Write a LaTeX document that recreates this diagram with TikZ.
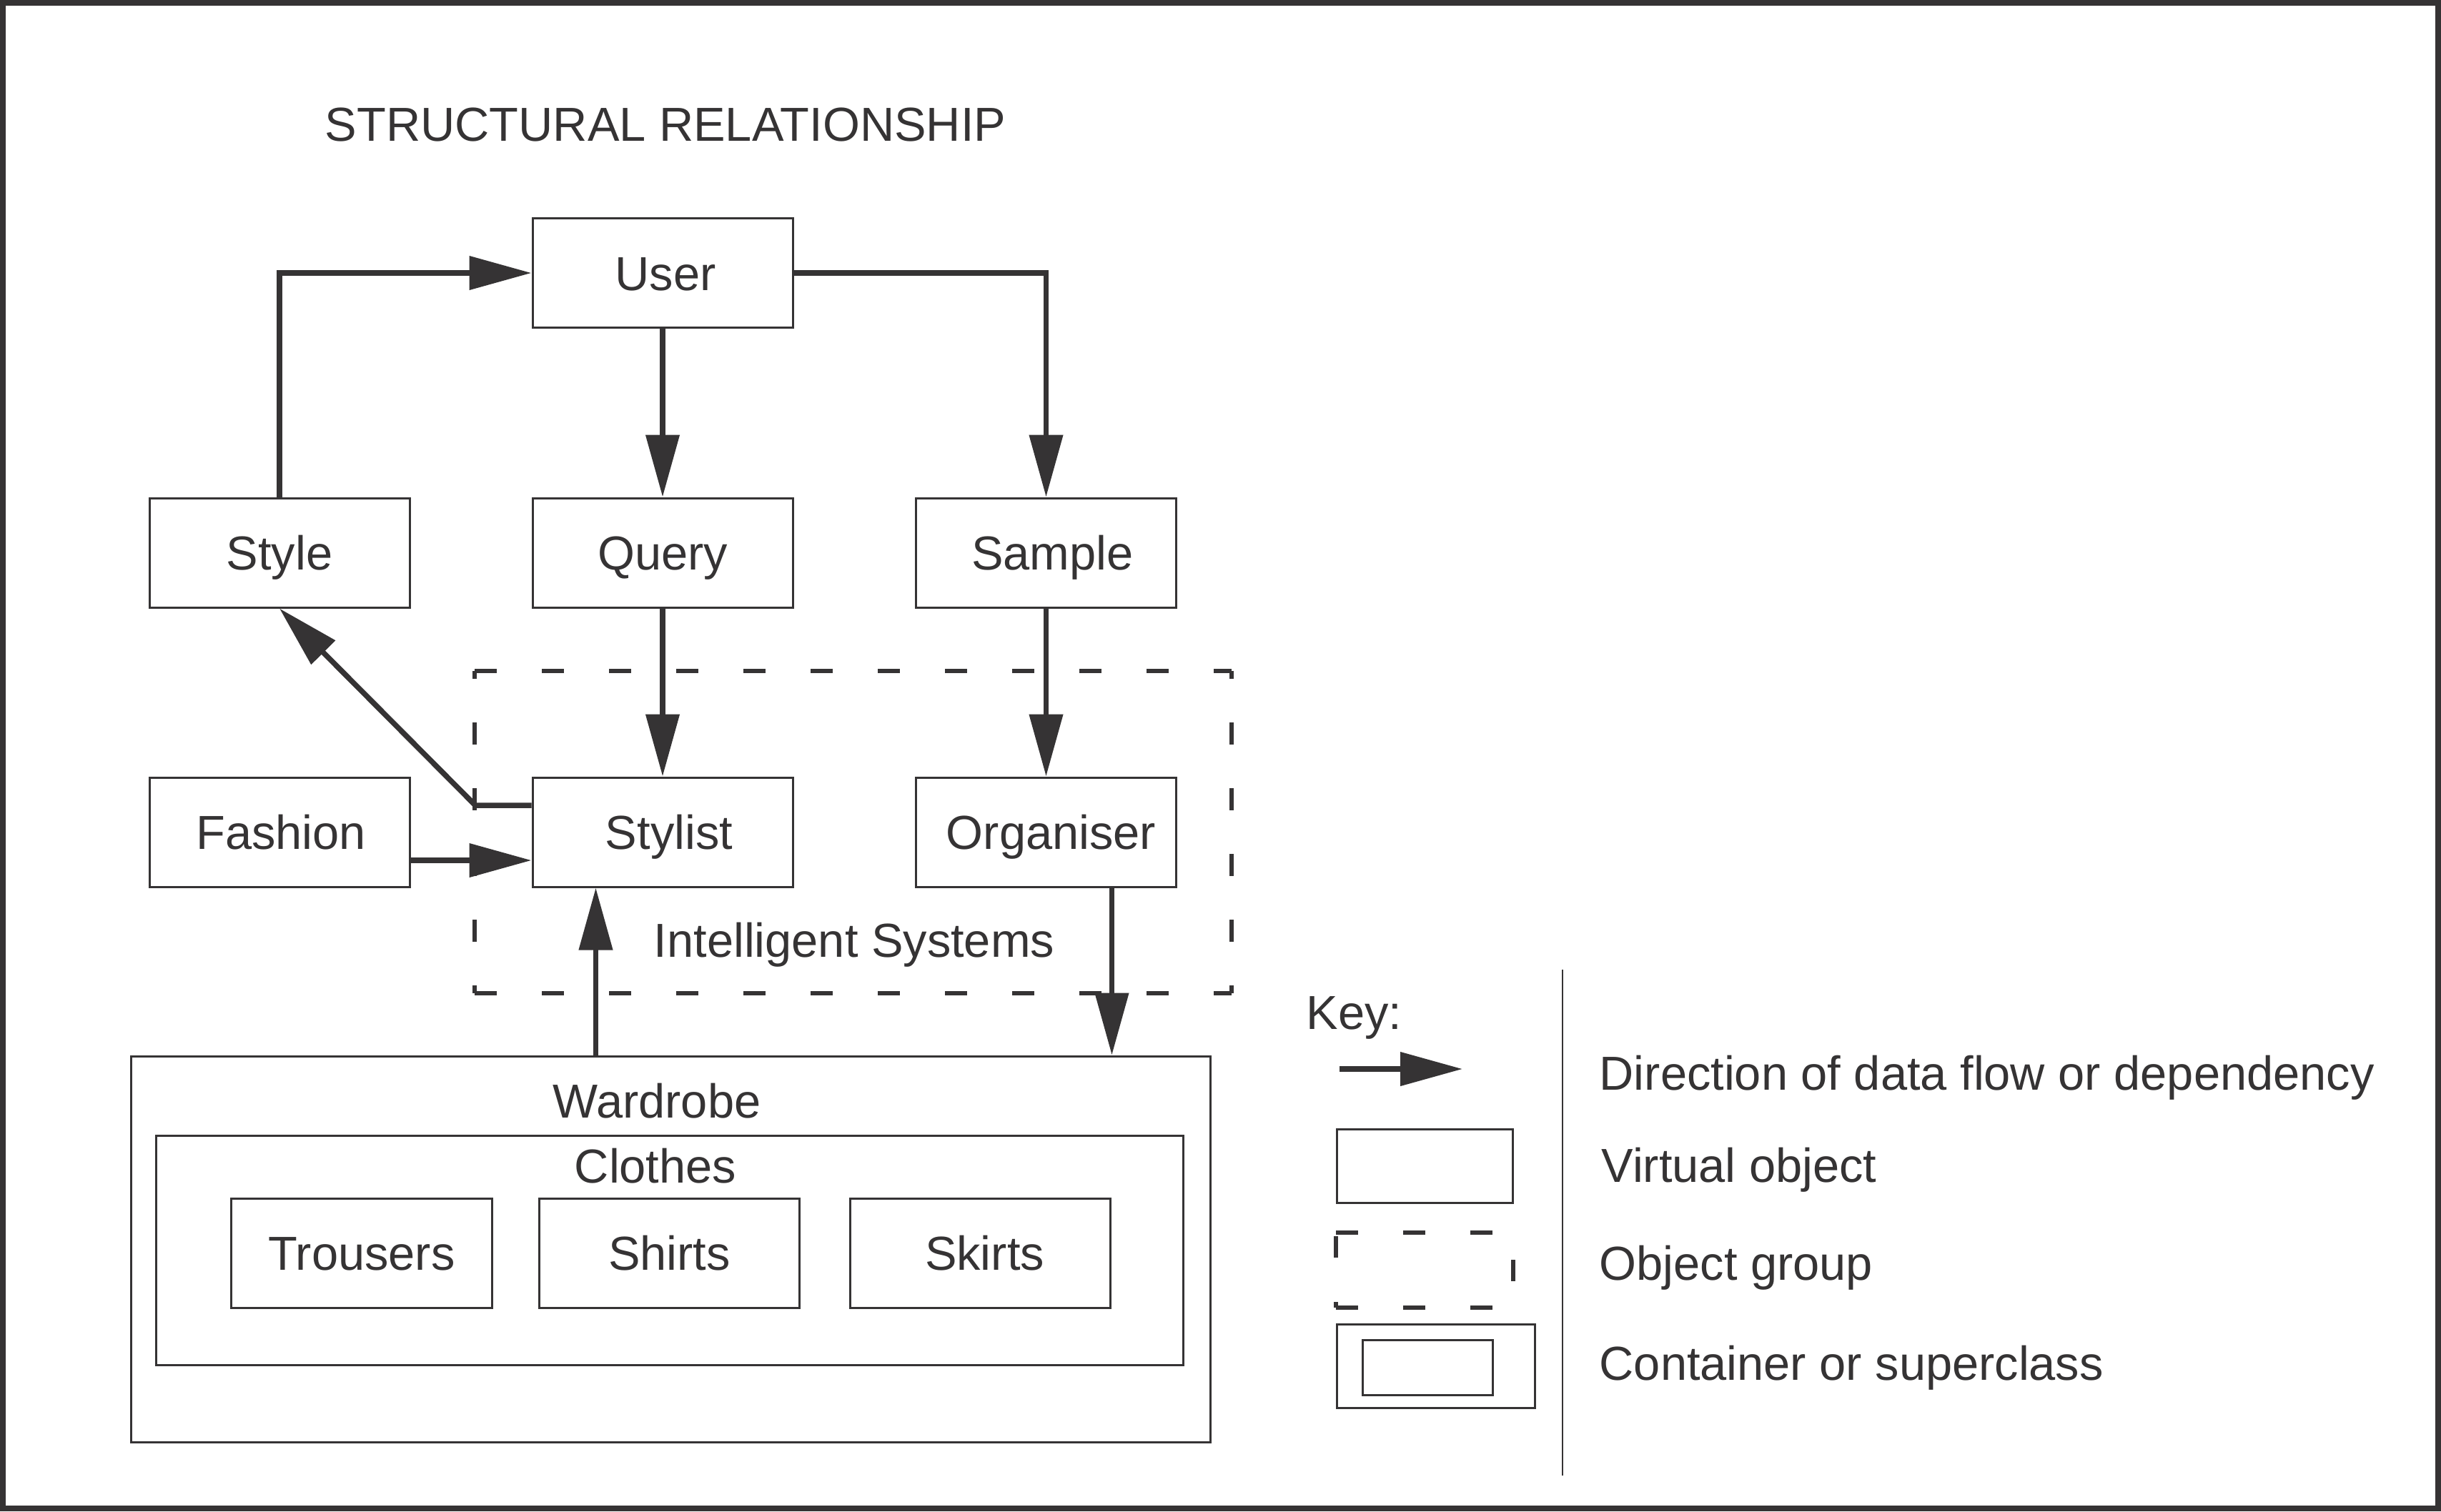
\documentclass[tikz,border=0pt]{standalone}
\usepackage{fontspec}
\setmainfont{Liberation Sans}
\usetikzlibrary{arrows.meta,calc}
\definecolor{ink}{RGB}{53,51,52}
\newcommand{\shifttxt}[2]{\hspace*{#1}#2}
\begin{document}
\begin{tikzpicture}[
  every node/.style={font=\fontsize{19}{22}\selectfont, text=ink},
  box/.style={draw=ink, line width=0.03cm, minimum width=3.64cm, minimum height=1.53cm, inner sep=0pt, text height=0.48cm, text depth=0cm},
  frame/.style={draw=ink, line width=0.03cm, inner sep=0pt},
  arr/.style={draw=ink, line width=0.075cm, -{Triangle[length=0.87cm,width=0.46cm]}},
  grpdash/.style={draw=ink, line width=0.06cm, dash pattern=on 0.31cm off 0.63cm},
  grpdashv/.style={draw=ink, line width=0.06cm, dash pattern=on 0.31cm off 0.61cm, dash phase=0.20cm},
  lbl/.style={text height=0.48cm, text depth=0cm, inner sep=0pt},
  keytext/.style={anchor=base west, inner sep=0pt}
]
\useasboundingbox (0,0) rectangle (34.15,-21.15);
\draw[ink, line width=0.08cm] (0.04,-0.04) rectangle (34.11,-21.11);

% title
\node[lbl] (title) at (9.31,-1.73) {STRUCTURAL RELATIONSHIP};

% boxes
\node[box] (user) at (9.27,-3.82) {\shifttxt{0.08cm}{User}};
\node[box] (nstyle) at (3.91,-7.735) {Style};
\node[box] (query) at (9.27,-7.735) {Query};
\node[box] (sample) at (14.635,-7.735) {\shifttxt{0.18cm}{Sample}};
\node[box] (fashion) at (3.91,-11.645) {\shifttxt{0.04cm}{Fashion}};
\node[box] (stylist) at (9.27,-11.645) {\shifttxt{0.18cm}{Stylist}};
\node[box] (organiser) at (14.635,-11.645) {\shifttxt{0.14cm}{Organiser}};

% intelligent systems group
\node[minimum width=10.57cm, minimum height=4.49cm, inner sep=0pt] (group) at (11.935,-11.645) {};
\draw[grpdash] (group.north west) -- (group.north east);
\draw[grpdash] (group.south west) -- (group.south east);
\draw[grpdashv] (group.north west) -- (group.south west);
\draw[grpdashv] (group.north east) -- (group.south east);
\node[lbl] (isys) at (11.95,-13.155) {Intelligent Systems};

% wardrobe
\node[frame, minimum width=15.10cm, minimum height=5.40cm] (wardrobe) at (9.38,-17.48) {};
\node[lbl] (wlabel) at (9.19,-15.40) {Wardrobe};
\node[frame, minimum width=14.37cm, minimum height=3.21cm] (clothes) at (9.365,-17.495) {};
\node[lbl] (clabel) at (9.17,-16.31) {Clothes};
\node[box, minimum width=3.645cm] (trousers) at (5.06,-17.535) {Trousers};
\node[box, minimum width=3.645cm] (shirts) at (9.365,-17.535) {Shirts};
\node[box, minimum width=3.645cm] (skirts) at (13.715,-17.535) {\shifttxt{0.12cm}{Skirts}};

% connectors
\draw[arr] (nstyle.north) |- (user.west);
\draw[arr] (user.east) -| (sample.north);
\draw[arr] (user.south) -- (query.north);
\draw[arr] (query.south) -- (stylist.north);
\draw[arr] (sample.south) -- (organiser.north);
\coordinate (fy) at (0,-12.04);
\draw[arr] (fashion.east |- fy) -- (stylist.west |- fy);
\coordinate (sy) at (6.65,-11.27);
\draw[arr] (stylist.west |- sy) -- (sy) -- (nstyle.south);
\coordinate (wx) at (8.335,0);
\draw[arr] (wardrobe.north -| wx) -- (stylist.south -| wx);
\coordinate (ox) at (15.555,0);
\draw[arr] (organiser.south -| ox) -- (wardrobe.north -| ox);

% key
\node[keytext] (nkey) at (18.27,-14.40) {Key:};
\coordinate (ka) at (18.74,-14.96);
\coordinate (kb) at (20.46,-14.96);
\draw[arr] (ka) -- (kb);
\node[frame, minimum width=2.46cm, minimum height=1.03cm] (kvirt) at (19.93,-16.315) {};
\node[minimum width=2.46cm, minimum height=1.03cm, inner sep=0pt] (kgrp) at (19.93,-17.775) {};
\draw[grpdash] (kgrp.north west) -- (kgrp.north east);
\draw[grpdash] (kgrp.south west) -- (kgrp.south east);
\draw[draw=ink, line width=0.06cm, dash pattern=on 0.30cm off 0.62cm, dash phase=0.87cm] (kgrp.north west) -- (kgrp.south west);
\draw[draw=ink, line width=0.06cm, dash pattern=on 0.30cm off 0.62cm, dash phase=0.54cm] (kgrp.north east) -- (kgrp.south east);
\node[frame, minimum width=2.77cm, minimum height=1.165cm] (kcont) at (20.085,-19.1175) {};
\node[frame, minimum width=1.826cm, minimum height=0.77cm] (kinner) at (19.973,-19.135) {};
\coordinate (d1) at (21.86,-13.565);
\coordinate (d2) at (21.86,-20.65);
\draw[ink, line width=0.02cm] (d1) -- (d2);
\node[keytext] (t1) at (22.37,-15.25) {Direction of data flow or dependency};
\node[keytext] (t2) at (22.40,-16.547) {Virtual object};
\node[keytext] (t3) at (22.37,-17.916) {Object group};
\node[keytext] (t4) at (22.37,-19.31) {Container or superclass};
\end{tikzpicture}
\end{document}
